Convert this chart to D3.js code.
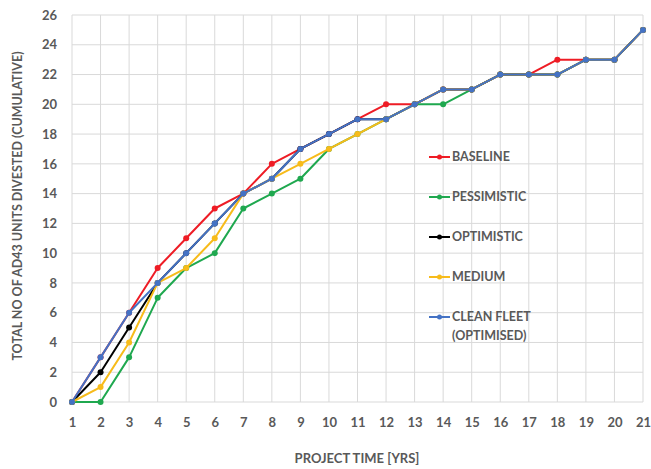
<!DOCTYPE html>
<html><head><meta charset="utf-8">
<script src="https://cdn.jsdelivr.net/npm/d3@7"></script>
<style>body{margin:0;background:#fff;} svg{display:block;}</style>
</head><body>
<svg id="c" width="651" height="469"></svg>
<script>
const years = d3.range(1, 22);
const baseline    = [0,3,6,9,11,13,14,16,17,18,19,20,20,21,21,22,22,23,23,23,25];
const pessimistic = [0,0,3,7,9,10,13,14,15,17,18,19,20,20,21,22,22,22,23,23,25];
const optimistic  = [0,2,5,8,10,12,14,15,17,18,19,19,20,21,21,22,22,22,23,23,25];
const medium      = [0,1,4,8,9,11,14,15,16,17,18,19,20,21,21,22,22,22,23,23,25];
const cleanFleet  = [0,3,6,8,10,12,14,15,17,18,19,19,20,21,21,22,22,22,23,23,25];
const seriesNames = ["BASELINE","PESSIMISTIC","OPTIMISTIC","MEDIUM","CLEAN FLEET (OPTIMISED)"];
const seriesColors = ["#ee1c25","#1fa84f","#000000","#f7bb1a","#4472c4"];
const yTicks = d3.range(0, 27, 2);

const series = [baseline, pessimistic, optimistic, medium, cleanFleet];
const svg = d3.select("#c");
const font = "Lato, 'Open Sans', sans-serif";
const textColor = "#595959";

const x = d3.scaleLinear().domain([1, 21]).range([72, 643]);
const y = d3.scaleLinear().domain([0, 26]).range([402, 15]);

// gridlines
const g = svg.append("g");
g.selectAll("line.v").data(years).join("line")
  .attr("x1", d => x(d)).attr("x2", d => x(d))
  .attr("y1", y(26)).attr("y2", y(0))
  .attr("stroke", "#d9d9d9").attr("stroke-width", 1);
g.selectAll("line.h").data(yTicks).join("line")
  .attr("x1", x(1)).attr("x2", x(21))
  .attr("y1", d => y(d)).attr("y2", d => y(d))
  .attr("stroke", "#d9d9d9").attr("stroke-width", 1);

// axes
const xAxis = svg.append("g").attr("transform", `translate(0,${y(0)})`)
  .call(d3.axisBottom(x).tickValues(years).tickFormat(d3.format("d")).tickSize(0).tickPadding(16));
xAxis.select(".domain").remove();
xAxis.selectAll("text").attr("fill", textColor).style("font", `bold 13px ${font}`);

const yAxis = svg.append("g").attr("transform", `translate(${x(1)},0)`)
  .call(d3.axisLeft(y).tickValues(yTicks).tickSize(0).tickPadding(15));
yAxis.select(".domain").remove();
yAxis.selectAll("text").attr("fill", textColor).style("font", `bold 13px ${font}`);

// titles
svg.append("text").attr("x", 357).attr("y", 463).attr("text-anchor", "middle")
  .attr("fill", textColor).style("font", `bold 13px ${font}`).text("PROJECT TIME [YRS]");
svg.append("text").attr("transform", `translate(22,206) rotate(-90)`).attr("text-anchor", "middle")
  .attr("fill", textColor).style("font", `bold 12.5px ${font}`).text("TOTAL NO OF AD43 UNITS DIVESTED (CUMULATIVE)");

// lines
const line = d3.line().x((d, i) => x(years[i])).y(d => y(d));
series.forEach((s, k) => {
  const sg = svg.append("g");
  sg.append("path").datum(s).attr("d", line).attr("fill", "none")
    .attr("stroke", seriesColors[k]).attr("stroke-width", 2).attr("stroke-linejoin", "round");
  sg.selectAll("circle").data(s).join("circle")
    .attr("cx", (d, i) => x(years[i])).attr("cy", d => y(d)).attr("r", 3)
    .attr("fill", seriesColors[k]);
});

// legend
const legY = [157, 197, 237, 277, 317];
seriesNames.forEach((name, k) => {
  const lg = svg.append("g").attr("transform", `translate(0,${legY[k]})`);
  lg.append("line").attr("x1", 429).attr("x2", 450).attr("y1", 0).attr("y2", 0)
    .attr("stroke", seriesColors[k]).attr("stroke-width", 2);
  lg.append("circle").attr("cx", 439.5).attr("cy", 0).attr("r", 2.5).attr("fill", seriesColors[k]);
  const t = lg.append("text").attr("x", 452).attr("y", 0).attr("dy", "0.35em")
    .attr("fill", textColor).style("font", `bold 12.5px ${font}`);
  if (name.startsWith("CLEAN")) {
    t.append("tspan").attr("x", 452).text("CLEAN FLEET");
    t.append("tspan").attr("x", 452).attr("dy", "1.5em").text("(OPTIMISED)");
  } else t.text(name);
});
</script>
</body></html>
